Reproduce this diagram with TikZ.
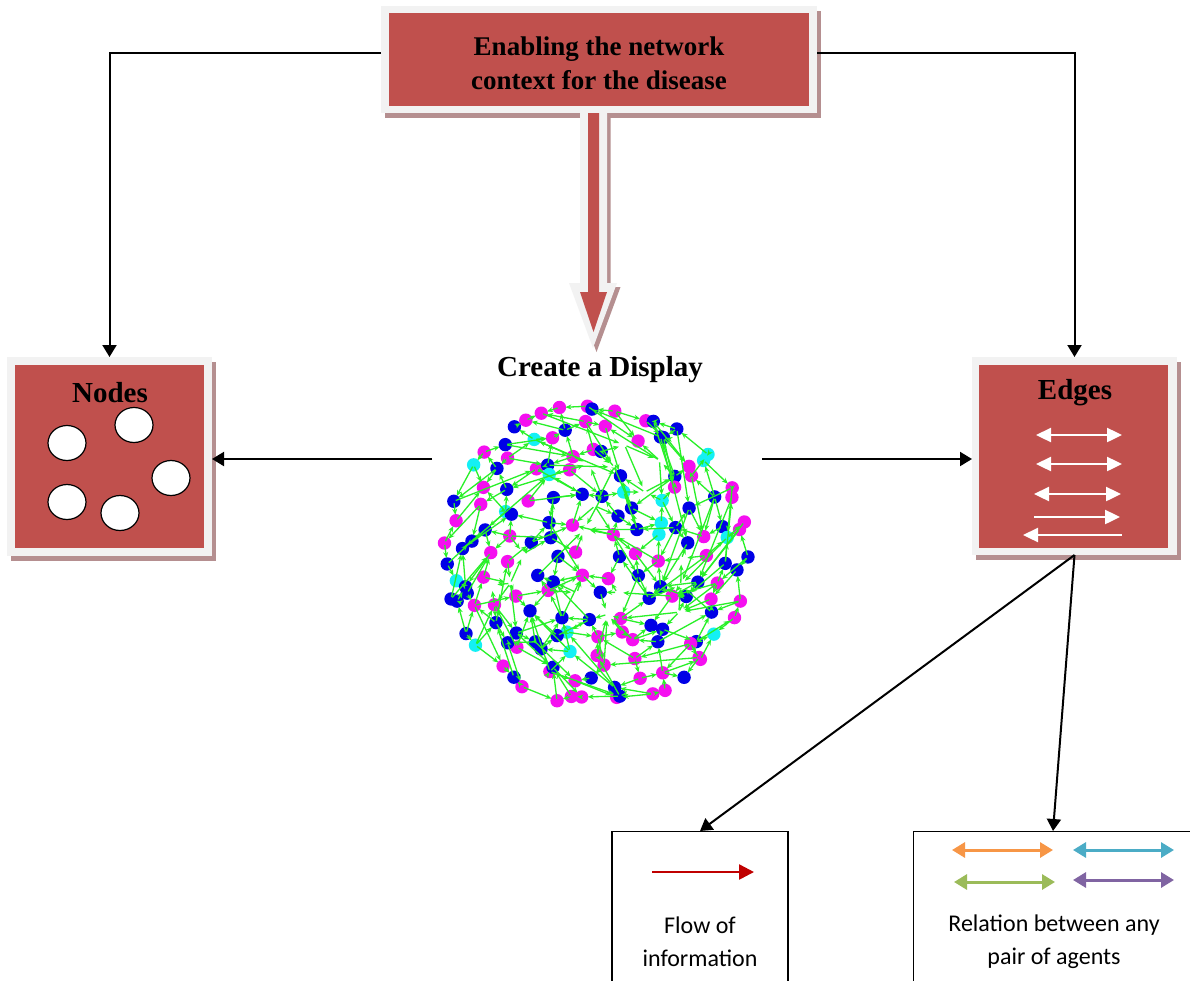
\documentclass[tikz,border=0pt]{standalone}
\usepackage{fontspec}
\setmainfont{Liberation Serif}
\newfontfamily\bodysans{Carlito}
\usetikzlibrary{arrows.meta,shapes.geometric,shadows}

\definecolor{boxred}{RGB}{192,80,77}
\definecolor{framegray}{RGB}{242,242,242}
\definecolor{shadowrose}{RGB}{181,143,144}
\definecolor{netgreen}{RGB}{40,240,40}
\definecolor{dot0}{RGB}{20,240,245}
\definecolor{dot1}{RGB}{245,15,240}
\definecolor{dot2}{RGB}{0,0,230}
\definecolor{flowred}{RGB}{192,0,0}
\definecolor{relorange}{RGB}{247,150,70}
\definecolor{relteal}{RGB}{75,172,198}
\definecolor{relgreen}{RGB}{155,187,89}
\definecolor{relpurple}{RGB}{128,100,162}

% dot counts per ring of the network sketch
\def\ringN{{46,38,31,25,19,12,6}}

\begin{document}
\begin{tikzpicture}[x=1pt,y=-1pt,
  frame/.style={fill=framegray, inner sep=0pt, outer sep=0pt,
    drop shadow={shadow xshift=3.5pt, shadow yshift=-5pt, fill=shadowrose, opacity=1}},
  panel/.style={fill=boxred, inner sep=0pt, outer sep=0pt},
  title/.style={font=\bfseries\fontsize{29}{34}\selectfont, inner sep=0pt},
  toptitle/.style={font=\bfseries\fontsize{27}{34}\selectfont, align=center, inner sep=0pt},
  sanslbl/.style={font=\bodysans\fontsize{24}{33}\selectfont, align=center, inner sep=0pt},
  conn/.style={draw=black, line width=2pt, -{Triangle[length=12pt,width=14pt]}},
  blob/.style={ellipse, draw=black, line width=1.2pt, fill=white, minimum width=38pt, minimum height=35pt, inner sep=0pt},
  whitearrow/.style={draw=white, line width=2.4pt},
  legendbox/.style={draw=black, line width=1.4pt, inner sep=0pt},
  relarrow/.style={line width=3pt, {Triangle[length=13pt,width=15pt]}-{Triangle[length=13pt,width=15pt]}},
  netedge/.style={draw=netgreen, line width=1.3pt, -{Stealth[length=6pt,width=5pt]}, shorten >=6pt, shorten <=2pt},
]
\clip (0,0) rectangle (1190,980);
\fill[white] (0,0) rectangle (1190,980);

% ---------- top box ----------
\node[frame, minimum width=436pt, minimum height=107pt] (topframe) at (599,59.5) {};
\node[panel, minimum width=420pt, minimum height=93pt] (topbox) at (599,59.5) {};
\node[toptitle] (toplbl) at (599,63) {Enabling the network\\context for the disease};

% ---------- block arrow down to the display ----------
\def\bigouter{(580,113) -- (607,113) -- (607,283) -- (617,283) -- (593,348) -- (569,283) -- (580,283) -- cycle}
\fill[shadowrose, shift={(3.5,4)}] \bigouter;
\fill[framegray] \bigouter;
\fill[boxred] (588,113) -- (599,113) -- (599,292) -- (607,292) -- (593.5,332) -- (580,292) -- (588,292) -- cycle;

\node[title] (display) at (600,370) {Create a Display};

% ---------- Nodes box ----------
\node[frame, minimum width=205pt, minimum height=199pt] (nodesframe) at (109.5,456.5) {};
\node[panel, minimum width=189pt, minimum height=183pt] (nodesbox) at (109.5,456.5) {};
\node[title] (nodeslbl) at (110,393) {Nodes};
\node[blob] (c1) at (67,443) {};
\node[blob] (c2) at (134,425) {};
\node[blob] (c3) at (171,478) {};
\node[blob] (c4) at (67,502) {};
\node[blob] (c5) at (120,513) {};

% ---------- Edges box ----------
\node[frame, minimum width=205pt, minimum height=198pt] (edgesframe) at (1074.5,456) {};
\node[panel, minimum width=189pt, minimum height=183pt] (edgesbox) at (1073.5,456.5) {};
\node[title] (edgeslbl) at (1075,393) {Edges};
\coordinate (ea1) at (1036,435); \coordinate (eb1) at (1122,435);
\coordinate (ea2) at (1036,464); \coordinate (eb2) at (1122,464);
\coordinate (ea3) at (1034,494); \coordinate (eb3) at (1121,494);
\coordinate (ea4) at (1034,517); \coordinate (eb4) at (1120,517);
\coordinate (ea5) at (1023,535); \coordinate (eb5) at (1122,535);
\draw[whitearrow, {Triangle[length=15pt,width=14pt]}-{Triangle[length=15pt,width=14pt]}] (ea1) -- (eb1);
\draw[whitearrow, {Triangle[length=15pt,width=14pt]}-{Triangle[length=15pt,width=14pt]}] (ea2) -- (eb2);
\draw[whitearrow, {Triangle[length=15pt,width=14pt]}-{Triangle[length=15pt,width=14pt]}] (ea3) -- (eb3);
\draw[whitearrow, -{Triangle[length=15pt,width=14pt]}] (ea4) -- (eb4);
\draw[whitearrow, {Triangle[length=15pt,width=14pt]}-] (ea5) -- (eb5);

% ---------- network sketch ----------
\pgfmathsetseed{2024}
\foreach \r/\R/\N in {0/149/46,1/128/38,2/107/31,3/86/25,4/65/19,5/44/12,6/22/6}{
  \pgfmathtruncatemacro\Nm{\N-1}
  \foreach \k in {0,...,\Nm}{
    \pgfmathsetmacro\ang{360*\k/\N+11*\r+6*rand}
    \pgfmathsetmacro\rr{\R+8*rand}
    \pgfmathsetmacro\rr{min(\rr,152)}
    \coordinate (p-\r-\k) at ({596+\rr*cos(\ang)},{555+\rr*sin(\ang)});
  }
}
\foreach \r/\N in {0/46,1/38,2/31,3/25,4/19,5/12,6/6}{
  \pgfmathtruncatemacro\Nm{\N-1}
  \foreach \k in {0,...,\Nm}{
    \pgfmathtruncatemacro\vis{(\r<2)||(rnd>0.25)}
    \pgfmathtruncatemacro\ci{rnd<0.1 ? 0 : (rnd<0.5 ? 1 : 2)}
    \ifnum\vis=1 \fill[dot\ci] (p-\r-\k) circle[radius=6.7]; \fi
  }
}
\foreach \r/\N in {0/46,1/38,2/31,3/25,4/19,5/12,6/6}{
  \pgfmathtruncatemacro\Nm{\N-1}
  \foreach \k in {0,...,\Nm}{
    \pgfmathtruncatemacro\kn{mod(\k+1,\N)}
    \pgfmathtruncatemacro\dir{rnd<0.5}
    \pgfmathtruncatemacro\keep{rnd>0.15}
    \ifnum\keep=1
      \ifnum\dir=1 \draw[netedge] (p-\r-\k) -- (p-\r-\kn); \else \draw[netedge] (p-\r-\kn) -- (p-\r-\k); \fi
    \fi
    \ifnum\r<6
      \pgfmathtruncatemacro\rn{\r+1}
      \pgfmathtruncatemacro\Nn{\ringN[\rn]}
      \pgfmathtruncatemacro\kk{mod(round(\k*\Nn/\N+1.4*rand)+\Nn,\Nn)}
      \pgfmathtruncatemacro\dir{rnd<0.5}
      \ifnum\dir=1 \draw[netedge] (p-\r-\k) -- (p-\rn-\kk); \else \draw[netedge] (p-\rn-\kk) -- (p-\r-\k); \fi
    \fi
    \ifnum\r<5
      \pgfmathtruncatemacro\extra{rnd<0.3}
      \ifnum\extra=1
        \pgfmathtruncatemacro\rm{\r+2}
        \pgfmathtruncatemacro\Nf{\ringN[\rm]}
        \pgfmathtruncatemacro\kf{mod(round(\k*\Nf/\N+2*rand)+\Nf,\Nf)}
        \draw[netedge] (p-\r-\k) -- (p-\rm-\kf);
      \fi
    \fi
  }
}
\coordinate (netL) at (432,459);
\coordinate (netR) at (762,459);

% ---------- connectors ----------
\draw[conn] ([yshift=6.5pt]topframe.west) -| (nodesframe.north);
\draw[conn] ([yshift=6.5pt]topframe.east) -| (edgesframe.north);
\draw[conn] (netL) -- (netL -| nodesframe.east);
\draw[conn] (netR) -- (netR -| edgesframe.west);

% ---------- legend boxes ----------
\node[legendbox, minimum width=176pt, minimum height=180pt, anchor=north] (flowbox) at (700,831) {};
\coordinate (fa) at (652,872);
\coordinate (fb) at (754,872);
\draw[flowred, line width=2.5pt, -{Triangle[length=15pt,width=15pt]}] (fa) -- (fb);
\node[sanslbl] (flowtxt) at (700,941.5) {Flow of\\information};

\node[legendbox, minimum width=279pt, minimum height=180pt, anchor=north] (relbox) at (1053,831) {};
\coordinate (ra1) at (952,850); \coordinate (rb1) at (1053,850);
\coordinate (ra2) at (1073,850); \coordinate (rb2) at (1174,850);
\coordinate (ra3) at (954,882); \coordinate (rb3) at (1055,882);
\coordinate (ra4) at (1073,880); \coordinate (rb4) at (1174,880);
\draw[relarrow, relorange] (ra1) -- (rb1);
\draw[relarrow, relteal] (ra2) -- (rb2);
\draw[relarrow, relgreen] (ra3) -- (rb3);
\draw[relarrow, relpurple] (ra4) -- (rb4);
\node[sanslbl] (reltxt) at (1054,941.5) {Relation between any\\pair of agents};

\draw[conn] (edgesframe.south) -- (flowbox.north);
\draw[conn] (edgesframe.south) -- (relbox.north);
\end{tikzpicture}
\end{document}
